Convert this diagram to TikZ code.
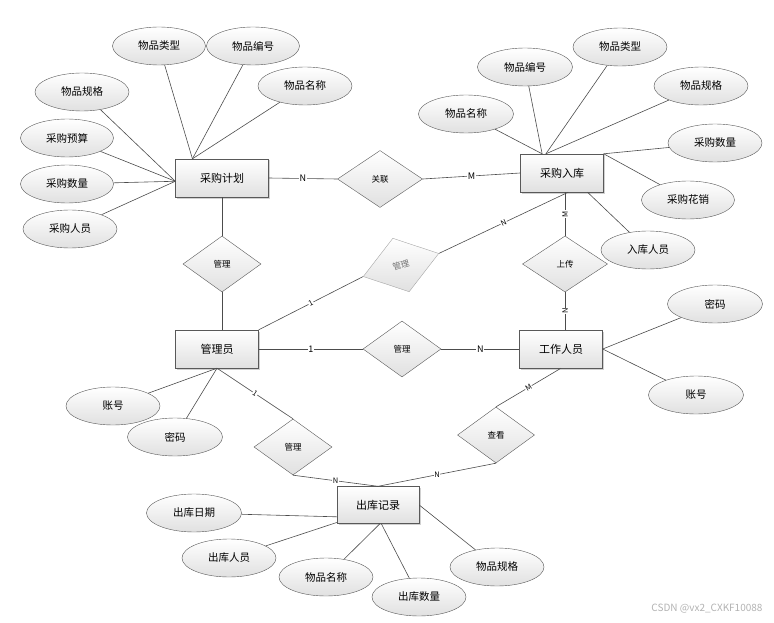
\documentclass[tikz,border=0pt]{standalone}
\usepackage{fontspec}
\setmainfont{Noto Sans CJK SC}
\usetikzlibrary{shapes.geometric, shadows}
\tikzset{
	entity/.style={rectangle, draw=black!65, top color=white, bottom color=black!12,
	minimum width=83pt, minimum height=38pt, inner sep=0pt,
	drop shadow={shadow xshift=1.5pt, shadow yshift=-1.5pt, fill=black!30, opacity=0.6},
	font=\fontsize{11}{12}\selectfont}
}
\tikzset{
	attrib/.style={ellipse, draw=black!65, top color=white, bottom color=black!12,
	minimum width=94pt, minimum height=38pt, inner sep=0pt, font=\fontsize{10.5}{12}\selectfont}
}
\tikzset{
	relation/.style={diamond, draw=black!65, top color=white, bottom color=black!12,
	minimum width=78pt, minimum height=56pt, inner sep=0pt, font=\fontsize{8.5}{10}\selectfont}
}
\tikzset{
	link/.style={draw=black!70, line width=0.6pt}
}
\tikzset{
	card/.style={fill=white, inner sep=0.6pt, font=\fontsize{7.5}{8}\selectfont}
}

\begin{document}
\begin{tikzpicture}[x=1pt, y=-1pt]
		\useasboundingbox (0,0) rectangle (774,623);

		% entities
		\node[entity, minimum width=93pt] (jh) at (222,178) {采购计划};
		\node[entity] (rk) at (562,173) {采购入库};
		\node[entity] (glr) at (217,349) {管理员};
		\node[entity] (gz) at (561,349) {工作人员};
		\node[entity, minimum width=82pt, minimum height=37pt] (ck) at (378,505) {出库记录};

		% relations
		\node[relation, minimum width=85pt, minimum height=57pt] (gl) at (380,179) {关联};
		\node[relation] (gla) at (222,264) {管理};
		\node[relation, draw=black!35, rotate=17, minimum width=79pt, text=black!55] (glb) at (401,265) {管理};
		\node[relation, minimum width=85pt] (sc) at (565,264) {上传};
		\node[relation] (glc) at (402,349) {管理};
		\node[relation] (gld) at (293,447) {管理};
		\node[relation, minimum width=77pt] (ckn) at (496,435) {查看};

		% attributes of 采购计划
		\node[attrib, minimum width=93pt] (jh1) at (159,46) {物品类型};
		\node[attrib, minimum width=93pt] (jh2) at (253,46) {物品编号};
		\node[attrib] (jh3) at (305,86) {物品名称};
		\node[attrib] (jh4) at (82,92) {物品规格};
		\node[attrib, minimum width=93pt] (jh5) at (67,138) {采购预算};
		\node[attrib, minimum width=93pt] (jh6) at (67,184) {采购数量};
		\node[attrib] (jh7) at (70,229) {采购人员};
		\foreach \a in {jh1, jh2, jh3}
			\draw[link] (\a) -- (jh.147);
		\foreach \a in {jh4, jh5, jh6, jh7}
			\draw[link] (\a) -- (jh.184);

		% attributes of 采购入库
		\node[attrib, minimum width=95pt] (rk1) at (525,67) {物品编号};
		\node[attrib] (rk2) at (620,47) {物品类型};
		\node[attrib, minimum width=95pt] (rk3) at (466,114) {物品名称};
		\node[attrib] (rk4) at (701,86) {物品规格};
		\node[attrib] (rk5) at (715,143) {采购数量};
		\node[attrib, minimum width=93pt] (rk6) at (688,200) {采购花销};
		\node[attrib] (rk7) at (648,250) {入库人员};
		\draw[link] (rk3) -- (rk.136);
		\draw[link] (rk1) -- (rk.136);
		\draw[link] (rk2) -- (rk.130);
		\draw[link] (rk4) -- (rk.130);
		\draw[link] (rk5) -- (rk.north east);
		\draw[link] (rk6) -- (rk.north east);
		\draw[link] (rk7) -- (rk.-37);

		% attributes of 管理员 and 工作人员
		\node[attrib] (glr1) at (113,406) {账号};
		\node[attrib, minimum width=95pt] (glr2) at (175,437) {密码};
		\draw[link] (glr1) -- (glr.south);
		\draw[link] (glr2) -- (glr.south);
		\node[attrib, minimum width=95pt] (gz1) at (715,304) {密码};
		\node[attrib, minimum width=95pt] (gz2) at (696,395) {账号};
		\draw[link] (gz1) -- (gz.east);
		\draw[link] (gz2) -- (gz.east);

		% attributes of 出库记录
		\node[attrib, minimum width=95pt] (ck1) at (194,513) {出库日期};
		\node[attrib] (ck2) at (229,558) {出库人员};
		\node[attrib] (ck3) at (326,577) {物品名称};
		\node[attrib] (ck4) at (419,597) {出库数量};
		\node[attrib] (ck5) at (497,567) {物品规格};
		\draw[link] (ck1) -- (ck.196);
		\draw[link] (ck2) -- (ck.203);
		\draw[link] (ck3) -- (ck.-84);
		\draw[link] (ck4) -- (ck.-80);
		\draw[link] (ck5) -- (ck.east);

		% relationship lines
		\draw[link] (jh.east) -- node[card, font=\fontsize{9}{9}\selectfont] {N} (gl.west);
		\draw[link] (gl.east) -- node[card, font=\fontsize{9}{9}\selectfont] {M} (rk.west);
		\draw[link] (jh.south) -- (gla.north);
		\draw[link] (gla.south) -- (gla.south |- glr.north);
		\draw[link] (glr.north east) -- node[card, sloped] {1} (glb.west);
		\draw[link] (glb.east) -- node[card, sloped] {N} (rk.-72);
		\draw[link] (sc.north |- rk.south) -- node[card, rotate=90] {M} (sc.north);
		\draw[link] (sc.south) -- node[card, rotate=90] {N} (sc.south |- gz.north);
		\draw[link] (glr.east) -- node[card, font=\fontsize{9}{9}\selectfont] {1} (glc.west);
		\draw[link] (glc.east) -- node[card, font=\fontsize{9}{9}\selectfont] {N} (gz.west);
		\draw[link] (glr.south) -- node[card, sloped] {1} (gld.north);
		\draw[link] (gld.south) -- node[card] {N} (ck.north);
		\draw[link] (gz.south) -- node[card, sloped] {M} (ckn.north);
		\draw[link] (ckn.south) -- node[card] {N} (ck.north);

		% watermark
		\node[text=black!30, font=\fontsize{10}{10}\selectfont, anchor=east] (wm) at (766,609) {CSDN @vx2\_CXKF10088};

	\end{tikzpicture}
\end{document}
